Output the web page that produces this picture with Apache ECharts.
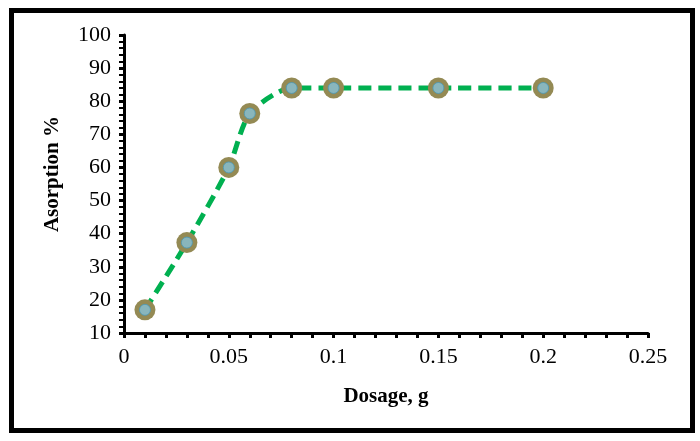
<!DOCTYPE html>
<html>
<head>
<meta charset="utf-8">
<script src="https://cdn.jsdelivr.net/npm/echarts@6/dist/echarts.min.js"></script>
<style>html,body{margin:0;padding:0;background:#fff}#c{width:700px;height:441px}</style>
</head>
<body>
<div id="c"></div>
<script>
var dosage = [0.01, 0.03, 0.05, 0.06, 0.08, 0.1, 0.15, 0.2];
var adsorption = [17, 37.3, 60, 76.3, 84, 84, 84, 84];
var xTitle = 'Dosage, g';
var yTitle = 'Asorption %';

var pts = dosage.map(function (d, i) { return [d, adsorption[i]]; });
var chart = echarts.init(document.getElementById('c'), null, {renderer: 'canvas'});
var font = '"Liberation Serif", "Times New Roman", serif';
chart.setOption({
  animation: false,
  backgroundColor: '#fff',
  graphic: [{
    type: 'rect',
    shape: {x: 11.5, y: 10.5, width: 681, height: 420},
    style: {fill: 'none', stroke: '#000', lineWidth: 5},
    z: 100
  }],
  grid: {left: 124, right: 52, top: 35, bottom: 108},
  xAxis: {
    type: 'value', min: 0, max: 0.25, interval: 0.05,
    name: xTitle, nameLocation: 'middle', nameGap: 53,
    nameTextStyle: {fontFamily: font, fontSize: 21, fontWeight: 'bold', color: '#000'},
    axisLine: {lineStyle: {color: '#000', width: 3}},
    axisTick: {show: true, inside: false, length: 5, lineStyle: {color: '#000', width: 3}},
    minorTick: {show: true, splitNumber: 5, length: 5, lineStyle: {color: '#000', width: 3}},
    axisLabel: {fontFamily: font, fontSize: 22, color: '#000', margin: 13,
      formatter: function (v) { return String(+v.toFixed(2)); }},
    splitLine: {show: false}
  },
  yAxis: {
    type: 'value', min: 10, max: 100, interval: 10,
    name: yTitle, nameLocation: 'middle', nameGap: 61,
    nameTextStyle: {fontFamily: font, fontSize: 21, fontWeight: 'bold', color: '#000', padding: [0, 0, 0, 20]},
    axisLine: {show: true, lineStyle: {color: '#000', width: 3}},
    axisTick: {show: true, inside: false, length: 5, lineStyle: {color: '#000', width: 3}},
    minorTick: {show: true, splitNumber: 5, length: 5, lineStyle: {color: '#000', width: 2}},
    axisLabel: {fontFamily: font, fontSize: 22, color: '#000', margin: 13},
    splitLine: {show: false}
  },
  series: [{
    type: 'line',
    data: pts,
    smooth: 0.25,
    symbol: 'circle',
    symbolSize: 21,
    showSymbol: true,
    lineStyle: {color: '#00B050', width: 5, type: [13, 7]},
    itemStyle: {color: '#948A54', borderWidth: 0},
    z: 2
  }, {
    type: 'scatter',
    data: pts,
    symbol: 'circle',
    symbolSize: 11,
    itemStyle: {color: '#86C0D6', borderColor: '#4A98B8', borderWidth: 1},
    z: 3
  }]
});
</script>
</body>
</html>
